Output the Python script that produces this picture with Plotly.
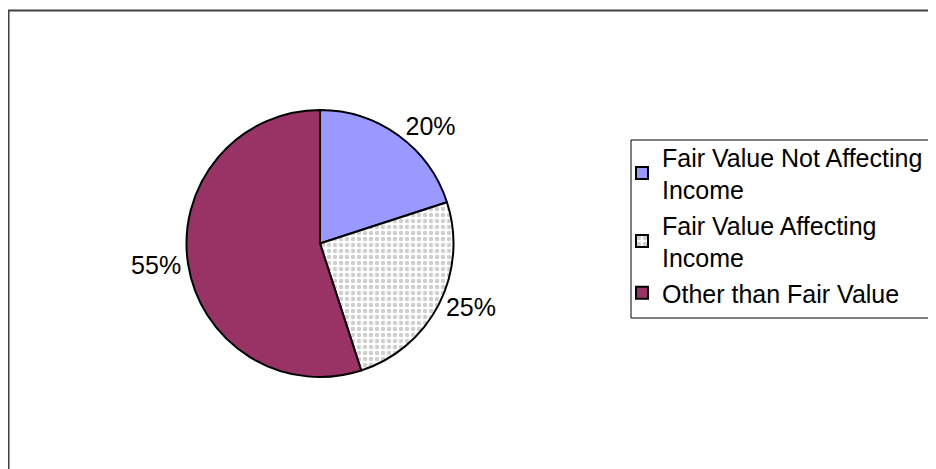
import plotly.graph_objects as go

labels = ["Fair Value Not Affecting<br>Income", "Fair Value Affecting<br>Income", "Other than Fair Value"]
values = [20, 25, 55]
colors = ["#9999FF", "#FFFFFF", "#993366"]
patterns = ["", ".", ""]

# page offset of the figure (browser body margin)
OFF = 8
W, H = 928, 461

def px(x):
    return (x - OFF) / W

def py(y):
    return 1 - (y - OFF) / H

cx, cy, r = 320, 243.5, 133.5

fig = go.Figure(go.Pie(
    labels=labels,
    values=values,
    sort=False,
    direction="clockwise",
    rotation=0,
    textinfo="percent",
    textposition="outside",
    texttemplate="%{percent:.0%}",
    textfont=dict(family="Liberation Sans, Arial, sans-serif", size=25, color="black"),
    marker=dict(
        colors=colors,
        line=dict(color="black", width=2),
        pattern=dict(shape=patterns, fgcolor="#A0A0A0", bgcolor="#FFFFFF", size=6, solidity=0.45, fillmode="overlay"),
    ),
    domain=dict(x=[px(cx - r), px(cx + r)], y=[py(cy + r), py(cy - r)]),
    hoverinfo="label+percent",
))

fig.update_layout(
    width=W, height=H,
    margin=dict(l=0, r=0, t=0, b=0),
    paper_bgcolor="white",
    plot_bgcolor="white",
    showlegend=True,
    legend=dict(
        x=px(622), xanchor="left",
        y=py(134), yanchor="top",
        font=dict(family="Liberation Sans, Arial, sans-serif", size=25, color="black"),
        bgcolor="rgba(0,0,0,0)",
        borderwidth=0,
        itemwidth=30,
    ),
    shapes=[
        dict(type="rect", xref="paper", yref="paper",
             x0=px(8.5), x1=1.2, y0=-0.2, y1=py(10.5),
             line=dict(color="#404040", width=2), fillcolor="rgba(0,0,0,0)"),
        dict(type="rect", xref="paper", yref="paper",
             x0=px(631), x1=1.2, y0=py(318), y1=py(140),
             line=dict(color="black", width=1), fillcolor="rgba(0,0,0,0)"),
    ],
)

fig.write_html("out.html")
